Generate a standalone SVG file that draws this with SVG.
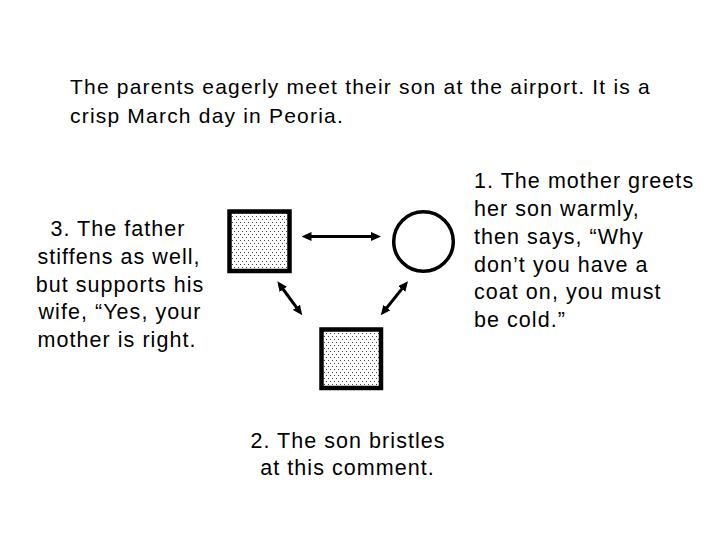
<svg xmlns="http://www.w3.org/2000/svg" width="720" height="540" viewBox="0 0 720 540">
  <style>
    .t { font-family: "Liberation Sans", Arial, sans-serif; fill: #000; }
    .title { font-size: 21px; letter-spacing: 1.2px; }
    .lbl { font-size: 21.5px; letter-spacing: 1.05px; }
    .box { fill: url(#dots); stroke: #000; stroke-width: 4.5; }
    .conn { stroke: #000; stroke-width: 3; fill: none; marker-start: url(#arr); marker-end: url(#arr); }
  </style>
  <defs>
    <pattern id="dots" width="4" height="6" patternUnits="userSpaceOnUse">
      <rect width="4" height="6" fill="#fff"/>
      <rect x="0" y="0" width="1" height="1" fill="#444"/>
      <rect x="2" y="3" width="1" height="1" fill="#444"/>
    </pattern>
    <marker id="arr" viewBox="0 0 10 9" markerWidth="10" markerHeight="9" refX="6" refY="4.5" orient="auto-start-reverse" markerUnits="userSpaceOnUse">
      <path d="M0,0 L10,4.5 L0,9 z" fill="#000"/>
    </marker>
  </defs>
  <rect width="720" height="540" fill="#fff"/>

  <g id="title">
    <text class="t title" x="70" y="93.5">The parents eagerly meet their son at the airport. It is a</text>
    <text class="t title" x="70" y="123">crisp March day in Peoria.</text>
  </g>

  <g id="node-father">
    <rect class="box" x="229.5" y="211.5" width="60" height="59.5"/>
  </g>
  <g id="node-mother">
    <circle cx="423.5" cy="241.5" r="29.8" fill="#fff" stroke="#000" stroke-width="3.5"/>
  </g>
  <g id="node-son">
    <rect class="box" x="321.5" y="329.5" width="59.5" height="58.5"/>
  </g>

  <g id="connectors">
    <line class="conn" x1="305.5" y1="236.5" x2="377" y2="236.5"/>
    <line class="conn" x1="279.7" y1="284.5" x2="299.9" y2="312.1"/>
    <line class="conn" x1="405.5" y1="284.4" x2="383.2" y2="312.2"/>
  </g>

  <g id="label-mother">
    <text class="t lbl" x="474" y="188">1. The mother greets</text>
    <text class="t lbl" x="474" y="216">her son warmly,</text>
    <text class="t lbl" x="474" y="243.5">then says, “Why</text>
    <text class="t lbl" x="474" y="271.5">don’t you have a</text>
    <text class="t lbl" x="474" y="299">coat on, you must</text>
    <text class="t lbl" x="474" y="327">be cold.”</text>
  </g>

  <g id="label-son">
    <text class="t lbl" x="348" y="448" text-anchor="middle">2. The son bristles</text>
    <text class="t lbl" x="347.5" y="475" text-anchor="middle">at this comment.</text>
  </g>

  <g id="label-father">
    <text class="t lbl" x="118" y="236" text-anchor="middle">3. The father</text>
    <text class="t lbl" x="119" y="264" text-anchor="middle">stiffens as well,</text>
    <text class="t lbl" x="120" y="291.5" text-anchor="middle">but supports his</text>
    <text class="t lbl" x="120" y="319" text-anchor="middle">wife, “Yes, your</text>
    <text class="t lbl" x="117" y="347" text-anchor="middle">mother is right.</text>
  </g>
</svg>
